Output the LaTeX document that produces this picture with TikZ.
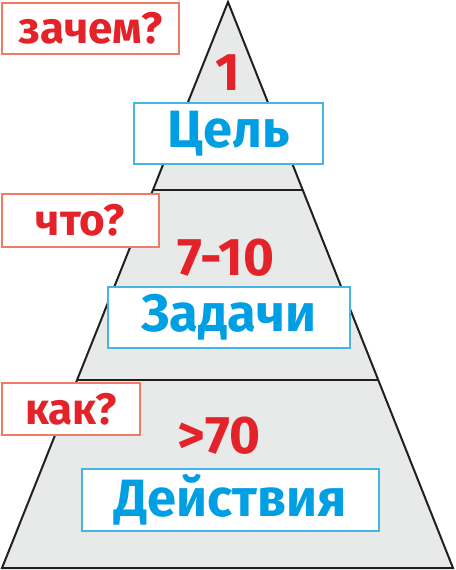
\documentclass[tikz,border=0pt]{standalone}
\usepackage{fontspec}
\setmainfont{Fira Sans}
\definecolor{pyrfill}{HTML}{E8E9E9}
\definecolor{pyrline}{HTML}{231F20}
\definecolor{qred}{HTML}{E42229}
\definecolor{qredline}{HTML}{F07C68}
\definecolor{lblue}{HTML}{009FE3}
\definecolor{lblueline}{HTML}{45B5E6}
\tikzset{
  qbox/.style={draw=qredline, line width=1.4pt, fill=white, inner sep=0pt, text=qred, font=\fontsize{44}{44}\selectfont\bfseries},
  lbox/.style={draw=lblueline, line width=1.2pt, fill=white, inner sep=0pt, text=lblue, font=\fontsize{52.5}{52.5}\selectfont\bfseries},
  numtext/.style={inner sep=0pt, text=qred, font=\fontsize{53}{53}\selectfont\bfseries},
  pyr/.style={draw=pyrline, line width=2pt, fill=pyrfill, line join=miter}
}
\begin{document}
\begin{tikzpicture}[x=1pt,y=-1pt]
\useasboundingbox (0,0) rectangle (455,570);
\coordinate (apex) at (228,2);
\coordinate (bl) at (2,568);
\coordinate (br) at (453,568);
\coordinate (l1) at (153,190);
\coordinate (r1) at (303,190);
\coordinate (l2) at (77,380);
\coordinate (r2) at (378,380);
\draw[pyr] (apex) -- (br) -- (bl) -- cycle;
\draw[draw=pyrline, line width=2pt] (l1) -- (r1);
\draw[draw=pyrline, line width=2pt] (l2) -- (r2);
% numbers
\node[numtext] (n1) at (228,73) {1};
\node[numtext] (n2) at (226,258) {7-10};
\node[numtext] (n3) at (219,436) {>70};
% level boxes
\node[lbox, minimum width=189pt, minimum height=61pt] (b1) at (228.5,133.5) {Цель};
\node[lbox, minimum width=242pt, minimum height=61pt] (b2) at (229,317.5) {Задачи};
\node[lbox, minimum width=297pt, minimum height=62pt] (b3) at (230.5,500) {Действия};
% question boxes
\node[qbox, minimum width=177pt, minimum height=51pt] (q1) at (90.5,28.5) {зачем?};
\node[qbox, minimum width=157pt, minimum height=53pt] (q2) at (80.5,220.5) {что?};
\node[qbox, minimum width=138pt, minimum height=52pt] (q3) at (71,409) {как?};
\end{tikzpicture}
\end{document}
